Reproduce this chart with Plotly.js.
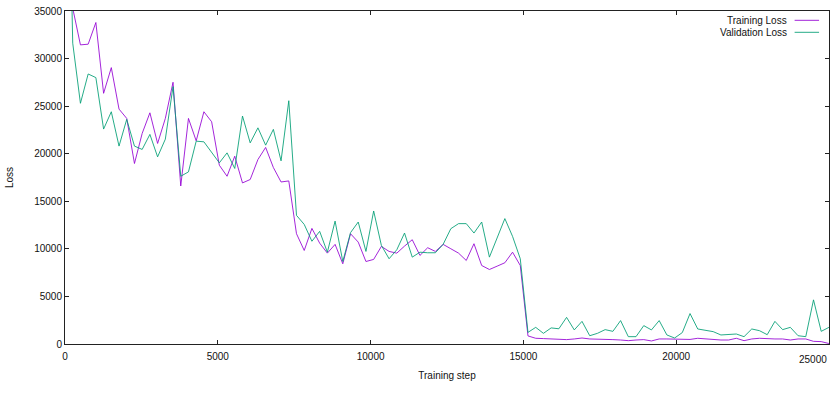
<!DOCTYPE html>
<html>
<head>
<meta charset="utf-8">
<script src="https://cdn.plot.ly/plotly-3.0.1.min.js"></script>
<style>
html,body{margin:0;padding:0;background:#fff;}
#chart{width:831px;height:396px;}
</style>
</head>
<body>
<div id="chart"></div>
<script>
// Training step at which each loss was logged
const steps = [0, 253, 505, 758, 1010, 1263, 1515, 1768, 2020, 2273, 2525, 2778, 3030, 3283, 3535, 3788, 4040, 4293, 4545, 4798,
  5050, 5303, 5555, 5808, 6060, 6313, 6565, 6818, 7070, 7323, 7575, 7828, 8080, 8333, 8585, 8838, 9090, 9343, 9595, 9848,
  10100, 10353, 10605, 10858, 11110, 11363, 11615, 11868, 12120, 12373, 12625, 12878, 13130, 13383, 13635, 13888, 14140, 14393, 14645, 14898,
  15150, 15403, 15655, 15908, 16160, 16413, 16665, 16918, 17170, 17423, 17675, 17928, 18180, 18433, 18685, 18938, 19190, 19443, 19695, 19948,
  20200, 20453, 20705, 20958, 21210, 21463, 21715, 21968, 22220, 22473, 22725, 22978, 23230, 23483, 23735, 23988, 24240, 24493, 24745, 24998];

const trainingLoss = [70000, 35300, 31440, 31510, 33790, 26350, 29050, 24690, 23710, 18970, 22130, 24300, 21080, 23710, 27510, 16610, 23710, 21350, 24410, 23360,
  18790, 17630, 19740, 16930, 17290, 19390, 20660, 18550, 17030, 17140, 11590, 9830, 12150, 10600, 9550, 10470, 8430, 11590, 10710, 8670,
  8890, 10260, 9730, 9550, 10290, 10960, 9310, 10120, 9730, 10470, 10010, 9550, 8780, 10540, 8250, 7830, 8180, 8540, 9650, 8250,
  850, 600, 570, 530, 460, 460, 530, 630, 530, 530, 460, 460, 420, 350, 420, 460, 320, 530, 530, 530,
  480, 480, 600, 530, 530, 420, 420, 600, 350, 530, 600, 530, 530, 530, 420, 530, 530, 280, 250, 50];

const validationLoss = [70000, 31620, 25300, 28380, 28000, 22590, 24410, 20800, 23610, 20800, 20450, 22030, 19670, 21530, 27050, 17630, 18090, 21320, 21250, 20200,
  19040, 20090, 18450, 23960, 21140, 22720, 20900, 22560, 19250, 25570, 13520, 12570, 10800, 11840, 9650, 12920, 8670, 11700, 12820, 9730,
  13980, 10360, 8960, 9910, 11660, 9130, 9650, 9590, 9590, 10470, 12120, 12650, 12650, 11660, 12820, 9130, 11070, 13180, 11310, 8960,
  1220, 1750, 1120, 1690, 1600, 2800, 1480, 2380, 870, 1120, 1510, 1330, 2460, 770, 770, 1930, 1480, 2460, 950, 630,
  1200, 3200, 1580, 1400, 1300, 950, 980, 1050, 770, 1580, 1400, 980, 2380, 1510, 1750, 870, 770, 4640, 1330, 1750];

const seriesNames = ["Training Loss", "Validation Loss"];
const seriesColors = ["#9400d3", "#009e73"];
const xTickVals = [0, 5000, 10000, 15000, 20000, 25000];
const xTickText = ["0", "5000", "10000", "15000", "20000", ""];
const yTickVals = [0, 5000, 10000, 15000, 20000, 25000, 30000, 35000];

const font = {family: "Liberation Sans, Arial, sans-serif", size: 10, color: "#111"};

const traces = [trainingLoss, validationLoss].map((vals, i) => ({
  type: "scatter", mode: "lines", x: steps, y: vals, name: seriesNames[i],
  line: {color: seriesColors[i], width: 1}, opacity: 0.85, showlegend: false, hoverinfo: "skip"
}));

// gnuplot-style key: text right-aligned, sample line to its right
const annotations = seriesNames.map((n, i) => ({
  xref: "paper", yref: "paper", x: 0.948, y: 0.972 - i * 0.036, xanchor: "right", yanchor: "middle",
  text: n, showarrow: false, font: font
}));
annotations.push({
  xref: "paper", yref: "paper", x: 1, y: -0.023, xanchor: "right", yanchor: "top",
  text: "25000", showarrow: false, font: font
});
const shapes = seriesNames.map((n, i) => ({
  type: "line", xref: "paper", yref: "paper", x0: 0.955, x1: 0.987,
  y0: 0.972 - i * 0.036, y1: 0.972 - i * 0.036, line: {color: seriesColors[i], width: 1}, opacity: 0.85
}));

const axisCommon = {
  showgrid: false, zeroline: false, showline: true, linecolor: "#222", linewidth: 1,
  mirror: "ticks", ticks: "inside", ticklen: 4, tickcolor: "#222", tickfont: font
};

const layout = {
  width: 831, height: 396,
  margin: {l: 65, r: 2, t: 11, b: 52},
  paper_bgcolor: "#fff", plot_bgcolor: "#fff",
  font: font,
  xaxis: Object.assign({}, axisCommon, {
    range: [0, 25000], tickvals: xTickVals, ticktext: xTickText, ticklabelstandoff: 3,
    title: {text: "Training step", font: font, standoff: 10}
  }),
  yaxis: Object.assign({}, axisCommon, {
    range: [0, 35000], tickvals: yTickVals, ticktext: yTickVals.map(String),
    title: {text: "Loss", font: font, standoff: 18}
  }),
  annotations: annotations,
  shapes: shapes
};

Plotly.newPlot("chart", traces, layout, {staticPlot: true, displayModeBar: false});
</script>
</body>
</html>
